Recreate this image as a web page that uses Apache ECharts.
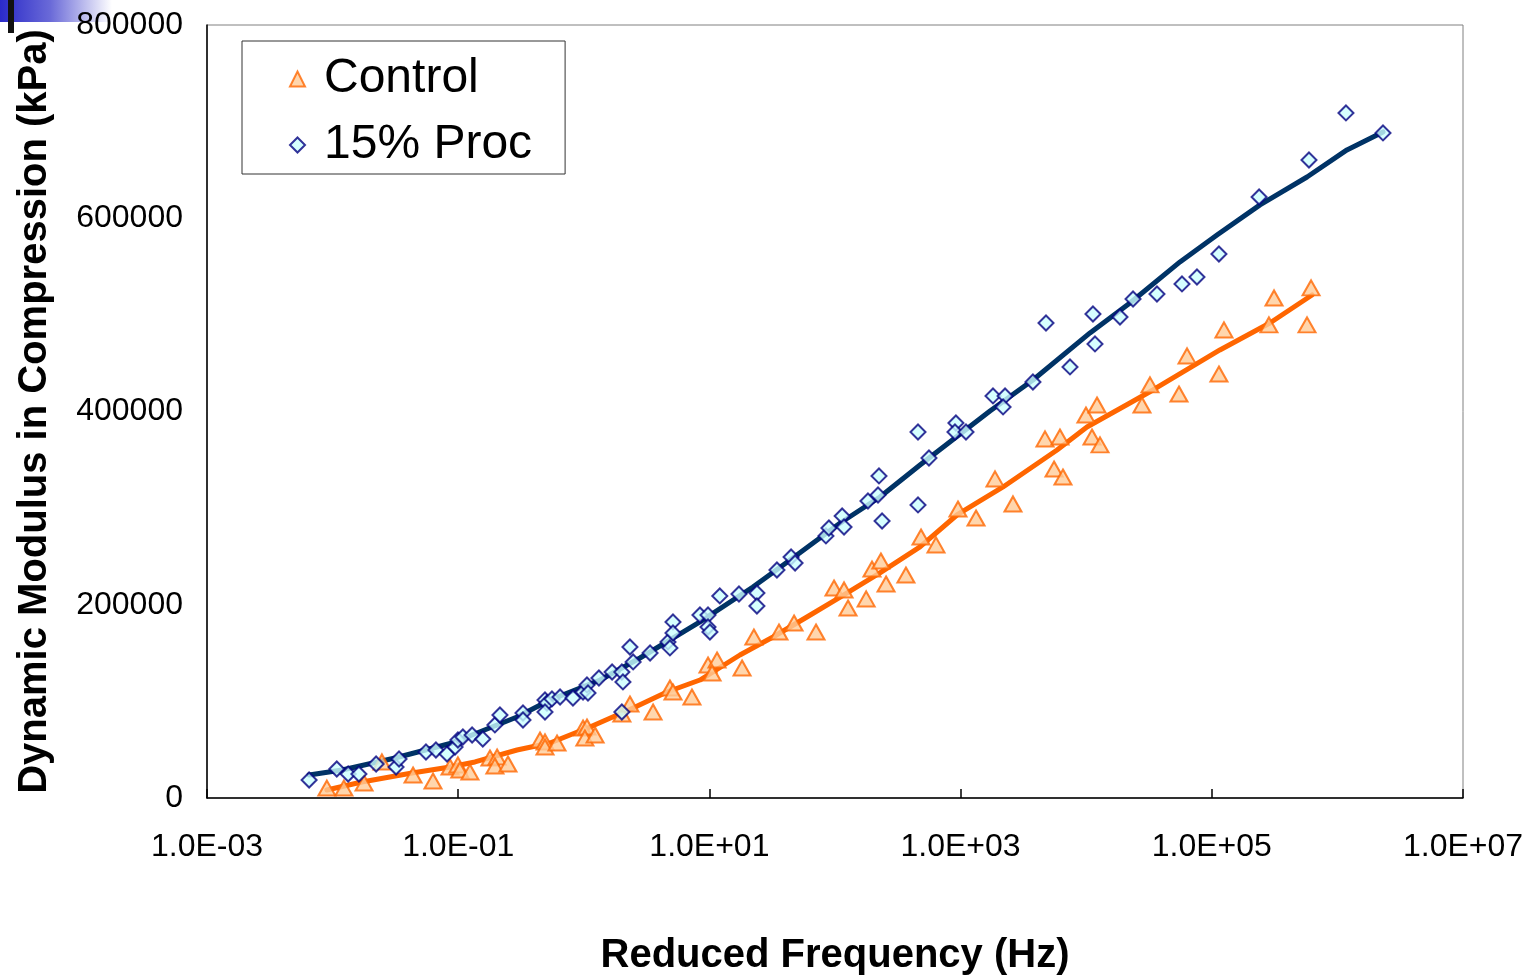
<!DOCTYPE html>
<html>
<head>
<meta charset="utf-8">
<script src="https://cdn.jsdelivr.net/npm/echarts@6/dist/echarts.min.js"></script>
<style>
html,body{margin:0;padding:0;background:#fff;}
#chart{width:1533px;height:978px;}
</style>
</head>
<body>
<div id="chart"></div>
<script>
// Control (measured)
const controlFreq = [9.0e-3,1.23e-2,1.78e-2,2.47e-2,4.37e-2,6.30e-2,8.61e-2,9.95e-2,1.03e-1,1.24e-1,
  1.79e-1,2.04e-1,1.96e-1,2.49e-1,4.48e-1,4.91e-1,4.91e-1,6.12e-1,9.86e-1,1.06,
  1.02,1.23,2.01,2.33,3.56,4.85,5.13,7.26,9.75,11.5,
  10.5,18.2,22.6,35.8,47.2,70.6,98.2,118,127,177,
  197,232,255,367,484,637,953,1327,1879,2612,
  4699,6180,5546,6531,9954,12190,11120,12880,27800,32200,
  54800,63500,114000,125000,285000,313000,573000,617000];
const controlModulus = [10300,10300,15500,37300,23800,17600,32100,34200,29000,26900,
  41400,42400,33100,35200,60000,58000,52800,56900,72400,73500,
  62100,65200,86900,97300,89000,113800,109700,104500,137600,142800,
  129400,134500,166600,171800,181100,171800,217300,215300,196600,206000,
  237000,245300,221500,230800,270100,261900,299100,289800,330200,304300,
  371600,373600,340500,332200,396400,406700,373600,365400,406700,427500,
  418100,457500,438800,484400,489600,517500,489600,527900];

// 15% Proc (measured)
const procFreq = [6.5e-3,1.08e-2,1.33e-2,1.62e-2,2.22e-2,3.20e-2,3.38e-2,5.54e-2,6.65e-2,8.15e-2,
  9.44e-2,9.95e-2,1.09e-1,1.29e-1,1.57e-1,1.96e-1,2.15e-1,3.28e-1,3.28e-1,4.91e-1,
  5.09e-1,4.91e-1,5.58e-1,6.47e-1,8.20e-1,9.86e-1,1.06,1.08,1.32,1.68,
  2.01,2.05,2.01,2.33,2.47,3.37,4.68,4.85,5.13,5.13,
  8.41,9.75,9.75,10.1,12.1,17.2,23.9,23.9,34.5,44.7,
  48.1,84.7,89.5,114,118,183,220,224,237,458,
  458,560,918,902,1104,1811,2259,2178,3767,4786,
  7430,11320,11750,18580,23600,36600,57900,76200,114000,238000,
  594000,1170000,2307000];
const procModulus = [18600,30000,24800,24800,35200,32100,40400,47600,49700,45500,
  52800,60000,63100,65200,61100,75600,85900,88000,80700,101400,
  98300,89000,102500,104500,103500,109700,117000,108700,124200,130400,
  130400,120100,89000,156300,140800,150100,161500,155300,182200,170800,
  189400,189400,177000,171800,209100,211100,212200,198700,236000,249400,
  243200,271200,279400,291900,280500,307400,313600,333300,286700,303300,
  378800,351900,388100,378800,378800,416100,416100,404700,430500,491600,
  446100,500900,469900,497800,516400,521600,532000,539200,563000,622000,
  660300,709000,688300];

// Fitted master curves
const procFitFreq = [6.5e-3,1.19e-2,3.14e-2,8.93e-2,2.94e-1,5.38e-1,1.35,2.80,8.41,22.2,43.9,110,228,475,1714,3767,10720,22300,55800,110000,242000,573000,1191000,2307000];
const procFitModulus = [23800,29000,41400,56900,83800,101400,122100,144900,182200,218400,246300,284600,311500,344700,400500,432600,481300,512300,554800,582700,613800,642700,670700,689300];
const controlFitFreq = [9.0e-3,1.71e-2,4.29e-2,8.61e-2,1.36e-1,2.94e-1,5.38e-1,1.12,2.47,4.59,8.41,17.5,32.1,59.8,110,228,475,935,2178,5860,10140,22300,34000,116000,290000,628000];
const controlFitModulus = [8300,16600,25900,32100,37300,49700,56900,73500,93200,109700,122100,148000,166600,187300,208000,232900,259800,292900,321900,360200,384000,408800,422300,463700,491600,520600];

const seriesNames = ['Control', '15% Proc'];
const xAxisTitle = 'Reduced Frequency (Hz)';
const yAxisTitle = 'Dynamic Modulus in Compression (kPa)';

const zip = (a, b) => a.map((v, i) => [v, b[i]]);
const FONT = '"Liberation Sans", Arial, sans-serif';

function expLabel(v) {
  const e = Math.round(Math.log10(v));
  const s = e < 0 ? '-' : '+';
  const a = Math.abs(e);
  return '1.0E' + s + (a < 10 ? '0' + a : '' + a);
}

const chart = echarts.init(document.getElementById('chart'));
chart.setOption({
  animation: false,
  backgroundColor: '#ffffff',
  graphic: [
    { type: 'rect', left: 0, top: 0, z: -10, silent: true, shape: { width: 112, height: 22 },
      style: { fill: new echarts.graphic.LinearGradient(0, 0, 1, 0, [
        { offset: 0, color: '#2a2ac8' }, { offset: 0.45, color: '#6a6ad8' }, { offset: 1, color: '#ffffff' }]) } },
    { type: 'rect', left: 8, top: 0, z: -9, silent: true, shape: { width: 6, height: 33 }, style: { fill: '#111111' } }
  ],
  grid: {
    left: 207, right: 70, top: 25, bottom: 180,
    outerBoundsMode: 'none', containLabel: false,
    show: true, borderColor: '#808080', borderWidth: 1, backgroundColor: 'transparent'
  },
  legend: {
    data: seriesNames,
    orient: 'vertical',
    left: 242, top: 41,
    padding: [14, 33, 5, 47],
    itemGap: 18,
    itemWidth: 15, itemHeight: 15,
    borderColor: '#333333', borderWidth: 1,
    textStyle: { fontFamily: FONT, fontSize: 48, color: '#000', padding: [0, 0, 0, 14] }
  },
  xAxis: {
    type: 'log', logBase: 10, min: 1e-3, max: 1e7, interval: 2,
    name: xAxisTitle, nameLocation: 'middle', nameGap: 138,
    nameTextStyle: { fontFamily: FONT, fontSize: 40, fontWeight: 'bold', color: '#000' },
    axisLine: { show: true, onZero: false, lineStyle: { color: '#000', width: 1.5 } },
    axisTick: { show: true, inside: true, length: 9, lineStyle: { color: '#000', width: 1.5 } },
    axisLabel: { fontFamily: FONT, fontSize: 32, color: '#000', margin: 33, formatter: expLabel },
    minorTick: { show: false },
    splitLine: { show: false }
  },
  yAxis: {
    type: 'value', min: 0, max: 800000, interval: 200000,
    name: yAxisTitle, nameLocation: 'middle', nameGap: 152, nameRotate: 90,
    nameTextStyle: { fontFamily: FONT, fontSize: 40, fontWeight: 'bold', color: '#000' },
    axisLine: { show: true, lineStyle: { color: '#000', width: 1.5 } },
    axisTick: { show: false },
    axisLabel: { fontFamily: FONT, fontSize: 32, color: '#000', margin: 24, formatter: v => String(v) },
    splitLine: { show: false }
  },
  series: [
    { name: 'Control fit', type: 'line', data: zip(controlFitFreq, controlFitModulus),
      showSymbol: false, symbol: 'none', z: 2, silent: true,
      lineStyle: { color: '#ff6600', width: 5, cap: 'round', join: 'round' } },
    { name: '15% Proc fit', type: 'line', data: zip(procFitFreq, procFitModulus),
      showSymbol: false, symbol: 'none', z: 2, silent: true,
      lineStyle: { color: '#003366', width: 5, cap: 'round', join: 'round' } },
    { name: 'Control', type: 'scatter', data: zip(controlFreq, controlModulus), z: 3,
      symbol: 'triangle', symbolSize: [17, 15],
      itemStyle: { color: '#ffcc99', borderColor: '#ff6600', borderWidth: 2 } },
    { name: '15% Proc', type: 'scatter', data: zip(procFreq, procModulus), z: 4,
      symbol: 'diamond', symbolSize: [15, 15],
      itemStyle: { color: '#ccffff', borderColor: '#000080', borderWidth: 2 } }
  ]
});
</script>
</body>
</html>
